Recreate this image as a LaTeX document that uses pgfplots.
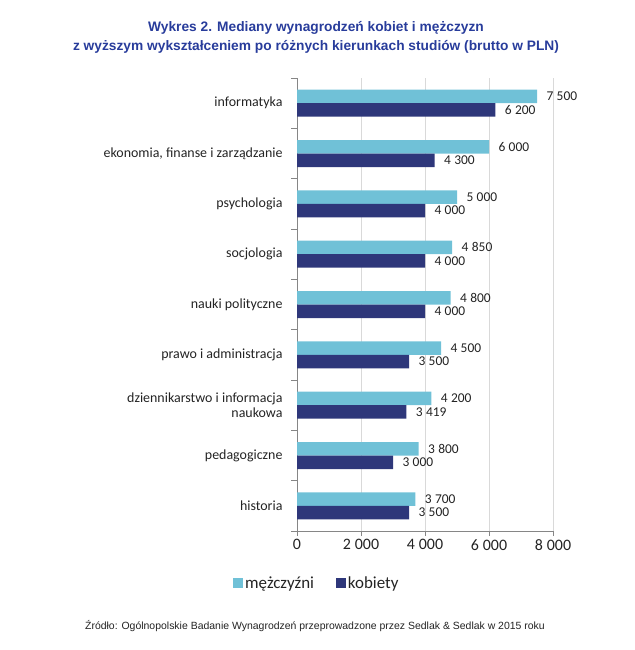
\documentclass[border=0pt]{standalone}
\usepackage{pgfplots}
\pgfplotsset{compat=1.18}
\usepackage{fontspec}
\setmainfont{Carlito}
\newfontfamily\arial{Liberation Sans}
\definecolor{men}{RGB}{112,193,215}
\definecolor{women}{RGB}{46,55,122}
\definecolor{titleblue}{RGB}{40,60,155}
\definecolor{txt}{RGB}{35,35,35}
\definecolor{axisgray}{RGB}{134,134,134}
\definecolor{gridgray}{RGB}{217,217,217}

\begin{document}
\begin{tikzpicture}
\path[use as bounding box] (0,0) rectangle (635bp,650bp);
\node[font=\arial\bfseries\fontsize{13.8}{19}\selectfont, text=titleblue, align=center]
  at (316bp,613bp) {Wykres 2. Mediany wynagrodzeń kobiet i mężczyzn\\z wyższym wykształceniem po różnych kierunkach studiów (brutto w PLN)};
\node[font=\arial\fontsize{10.5}{12}\selectfont, text=txt]
  at (315bp,24bp) {Źródło: Ogólnopolskie Badanie Wynagrodzeń przeprowadzone przez Sedlak \& Sedlak w 2015 roku};
\begin{axis}[
  at={(297bp,119bp)}, anchor=south west,
  scale only axis, width=256bp, height=453bp,
  xbar, bar width=13.5bp,
  xmin=0, xmax=8000, ymin=-0.5, ymax=8.5, y dir=reverse,
  axis x line*=bottom, axis y line*=left,
  axis line style={draw=axisgray, -},
  every tick/.style={draw=axisgray, thin},
  tick align=outside,
  xtick={0,2000,4000,6000,8000},
  major tick length=5bp,
  xmajorgrids, grid style={gridgray},
  ytick={0,...,8},
  major y tick style={draw=none},
  minor ytick={-0.5,0.5,...,8.5},
  minor tick length=6bp,
  yticklabels={informatyka, {ekonomia, finanse i zarządzanie}, psychologia, socjologia,
    nauki polityczne, prawo i administracja, {dziennikarstwo i informacja\\naukowa},
    pedagogiczne, historia},
  y tick label style={font=\fontsize{14}{15}\selectfont, text=txt, align=right, xshift=-6bp},
  x tick label style={font=\fontsize{16}{17}\selectfont, text=txt},
  /pgf/number format/.cd, assume math mode=true, 1000 sep={\kern0.25em},
  /pgfplots/.cd,
  scaled x ticks=false,
  nodes near coords,
  nodes near coords style={font=\fontsize{13.5}{14}\selectfont, text=txt, anchor=west, xshift=6bp},
  legend style={draw=none, fill=none, at={(-0.25,-0.115)}, anchor=west,
    legend columns=2, inner sep=0pt, font=\fontsize{17}{18}\selectfont, text=txt,
    /tikz/every even column/.append style={column sep=20bp}},
  legend cell align=left,
  legend image code/.code={\fill[#1] (0bp,-5bp) rectangle (10bp,5bp);},
]
\addplot[fill=men, draw=none, bar shift=6.75bp] coordinates {
  (7500,0) (6000,1) (5000,2) (4850,3) (4800,4) (4500,5) (4200,6) (3800,7) (3700,8)};
\addplot[fill=women, draw=none, bar shift=-6.75bp] coordinates {
  (6200,0) (4300,1) (4000,2) (4000,3) (4000,4) (3500,5) (3419,6) (3000,7) (3500,8)};
\legend{mężczyźni, kobiety}
\end{axis}
\end{tikzpicture}
\end{document}
